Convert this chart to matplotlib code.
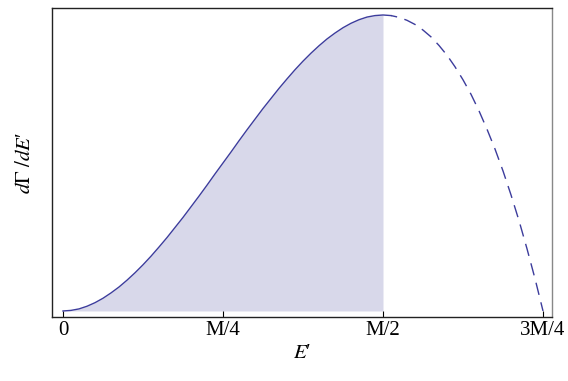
import numpy as np
import matplotlib
matplotlib.use("Agg")
import matplotlib.pyplot as plt

plt.rcParams['font.family'] = ['Liberation Serif', 'DejaVu Serif']
plt.rcParams['mathtext.fontset'] = 'stix'

# energy E' in units of M, and rate dGamma/dE' (normalised to the peak)
E = [0.0, 0.0125, 0.025, 0.0375, 0.05, 0.0625, 0.075, 0.0875, 0.1, 0.1125,
     0.125, 0.1375, 0.15, 0.1625, 0.175, 0.1875, 0.2, 0.2125, 0.225, 0.2375,
     0.25, 0.2625, 0.275, 0.2875, 0.3, 0.3125, 0.325, 0.3375, 0.35, 0.3625,
     0.375, 0.3875, 0.4, 0.4125, 0.425, 0.4375, 0.45, 0.4625, 0.475, 0.4875,
     0.5, 0.5125, 0.525, 0.5375, 0.55, 0.5625, 0.575, 0.5875, 0.6, 0.6125,
     0.625, 0.6375, 0.65, 0.6625, 0.675, 0.6875, 0.7, 0.7125, 0.725, 0.7375,
     0.75]
rate = [0.0, 0.002, 0.007, 0.016, 0.028, 0.043, 0.061, 0.081, 0.104, 0.129,
        0.156, 0.185, 0.216, 0.248, 0.282, 0.316, 0.352, 0.388, 0.425, 0.463,
        0.5, 0.537, 0.575, 0.612, 0.648, 0.684, 0.718, 0.752, 0.784, 0.815,
        0.844, 0.871, 0.896, 0.919, 0.939, 0.957, 0.972, 0.984, 0.993, 0.998,
        1.0, 0.998, 0.992, 0.982, 0.968, 0.949, 0.926, 0.897, 0.864, 0.825,
        0.781, 0.732, 0.676, 0.614, 0.547, 0.473, 0.392, 0.305, 0.210, 0.109,
        0.0]
cut = 0.5           # shaded region ends here
solid_end = 0.5125  # solid line drawn up to here

tick_pos = [0, 0.25, 0.5, 0.75]
tick_lab = ['0', 'M/4', 'M/2', '3M/4']

E = np.array(E)
rate = np.array(rate)

line_col = '#3c3c9c'
fill_col = '#d8d8ea'

fig = plt.figure(figsize=(5.68, 3.81), dpi=100)
ax = fig.add_axes([0.0915, 0.168, 0.8803, 0.811])

m = E <= cut
ax.fill_between(E[m], 0, rate[m], color=fill_col, lw=0)
s = E <= solid_end
ax.plot(E[s], rate[s], color=line_col, lw=1.0)
d = E >= solid_end
ax.plot(E[d], rate[d], color=line_col, lw=1.0, linestyle=(-10, (9, 5.5)))

ax.set_xlim(-0.0172, 0.764)
ax.set_ylim(-0.0203, 1.0236)
ax.set_xticks(tick_pos)
ax.set_xticklabels(tick_lab, fontsize=15)
ax.set_yticks([])
ax.tick_params(axis='x', direction='in', length=4.5, width=0.8, pad=3,
               top=False, colors='black')

for side in ['left', 'bottom', 'top']:
    ax.spines[side].set_color('#222222')
    ax.spines[side].set_linewidth(1.0)
ax.spines['right'].set_color('#888888')
ax.spines['right'].set_linewidth(1.0)

ax.set_xlabel("$E$\u2032", fontsize=15, labelpad=3)
ax.set_ylabel(r"$d\Gamma\ /dE$" + "\u2032", fontsize=15, labelpad=12)

fig.savefig('out.png', dpi=100)
